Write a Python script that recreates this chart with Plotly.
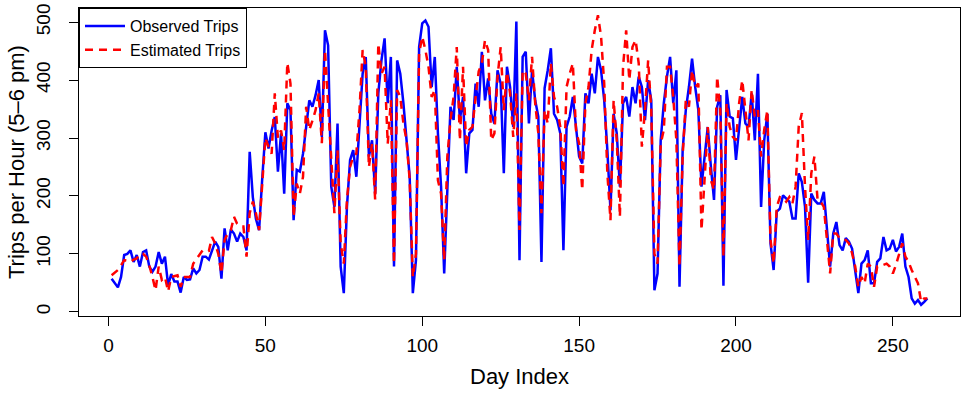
import plotly.graph_objects as go

# day index 1..261
days = list(range(1, 262))

# observed trips per hour (5-6 pm)
observed = [
    57, 50, 42, 60, 98, 100, 106, 86, 98, 78,
    103, 106, 78, 69, 78, 103, 83, 95, 46, 65,
    52, 52, 33, 60, 55, 56, 75, 66, 72, 95,
    95, 90, 104, 121, 112, 57, 144, 106, 142, 135,
    121, 135, 129, 106, 276, 198, 160, 141, 230, 310,
    282, 313, 336, 242, 308, 204, 360, 348, 158, 245,
    242, 273, 319, 365, 354, 374, 400, 302, 486, 460,
    216, 181, 325, 78, 32, 181, 262, 279, 233, 325,
    411, 440, 268, 296, 204, 377, 434, 472, 360, 440,
    78, 434, 411, 360, 296, 233, 32, 89, 457, 498,
    503, 492, 388, 440, 308, 216, 66, 216, 354, 331,
    423, 331, 371, 239, 308, 314, 394, 354, 449, 365,
    403, 342, 325, 417, 394, 239, 423, 388, 319, 501,
    89, 440, 449, 325, 417, 365, 337, 86, 386, 417,
    455, 342, 331, 308, 106, 319, 337, 371, 319, 268,
    256, 377, 360, 411, 377, 440, 417, 365, 279, 175,
    342, 308, 216, 360, 371, 337, 388, 360, 406, 388,
    331, 400, 365, 37, 66, 296, 360, 406, 440, 360,
    417, 43, 279, 348, 388, 437, 388, 348, 216, 262,
    319, 250, 193, 354, 374, 45, 383, 337, 334, 262,
    314, 371, 325, 319, 377, 296, 411, 181, 296, 342,
    118, 72, 173, 178, 201, 196, 190, 161, 161, 239,
    224, 181, 50, 204, 193, 187, 187, 207, 135, 78,
    135, 155, 115, 106, 127, 121, 109, 72, 32, 83,
    89, 106, 49, 49, 86, 92, 129, 106, 109, 124,
    104, 112, 135, 78, 60, 23, 14, 20, 12, 17,
    23,
]

# estimated trips per hour
estimated = [
    63, 68, 72, 80, 89, 88, 86, 90, 92, 100,
    100, 95, 80, 60, 37, 78, 55, 60, 35, 60,
    62, 63, 43, 60, 60, 60, 83, 90, 98, 106,
    104, 105, 129, 118, 100, 66, 124, 135, 141, 164,
    152, 147, 147, 95, 170, 190, 170, 141, 220, 300,
    285, 273, 377, 300, 313, 279, 430, 394, 164, 221,
    204, 233, 354, 314, 330, 348, 377, 291, 452, 360,
    250, 170, 279, 118, 83, 193, 250, 268, 273, 348,
    452, 423, 250, 290, 193, 463, 411, 423, 290, 365,
    83, 383, 371, 325, 296, 227, 60, 100, 446, 475,
    452, 423, 371, 383, 227, 204, 89, 268, 331, 371,
    457, 296, 423, 285, 314, 319, 370, 415, 429, 469,
    452, 296, 308, 406, 457, 348, 414, 377, 302, 377,
    141, 417, 411, 365, 440, 360, 308, 170, 348, 325,
    429, 371, 354, 319, 216, 388, 411, 429, 314, 291,
    210, 360, 388, 452, 486, 512, 475, 394, 239, 158,
    365, 296, 164, 423, 486, 400, 457, 469, 429, 285,
    348, 434, 348, 100, 83, 290, 314, 423, 423, 371,
    296, 78, 268, 365, 354, 417, 388, 394, 141, 239,
    319, 227, 210, 406, 348, 95, 360, 319, 302, 296,
    360, 400, 342, 296, 383, 337, 348, 268, 314, 348,
    124, 83, 181, 198, 196, 190, 198, 187, 216, 320,
    343, 216, 124, 239, 268, 193, 190, 181, 124, 66,
    135, 135, 127, 124, 124, 118, 101, 78, 43, 60,
    49, 83, 78, 43, 78, 78, 81, 83, 78, 66,
    81, 101, 118, 95, 86, 72, 60, 49, 17, 23,
    23,
]

x_ticks = [0, 50, 100, 150, 200, 250]
y_ticks = [0, 100, 200, 300, 400, 500]

font = "Liberation Sans, Arial, Helvetica, sans-serif"

fig = go.Figure()
fig.add_trace(go.Scatter(x=days, y=observed, mode="lines", name="Observed Trips",
                         line=dict(color="#0000FF", width=2.5)))
fig.add_trace(go.Scatter(x=days, y=estimated, mode="lines", name="Estimated Trips",
                         line=dict(color="#FF0000", width=2.5, dash="8px,6px")))

fig.update_layout(
    width=969, height=396,
    margin=dict(l=79, r=9, t=8, b=80),
    paper_bgcolor="white", plot_bgcolor="white",
    font=dict(family=font, color="black"),
    showlegend=True,
    legend=dict(x=0, y=1, xanchor="left", yanchor="top",
                bordercolor="black", borderwidth=1, bgcolor="white",
                font=dict(size=16), tracegroupgap=0, itemwidth=40),
    annotations=[
        dict(text="Day Index", x=0.5, y=-0.198, xref="paper", yref="paper",
             xanchor="center", yanchor="middle", showarrow=False, font=dict(size=22)),
        dict(text="Trips per Hour (5\u20136 pm)", x=-0.0715, y=0.5, xref="paper", yref="paper",
             xanchor="center", yanchor="middle", showarrow=False, textangle=-90,
             font=dict(size=22)),
    ],
)
fig.update_xaxes(range=[-9.4, 271.4], tickvals=x_ticks, ticks="outside", ticklen=9,
                 tickcolor="black", tickfont=dict(size=19), showgrid=False, zeroline=False,
                 showline=True, linecolor="black", linewidth=1, mirror=True,
                 automargin=False, ticklabelstandoff=3)
fig.update_yaxes(range=[-7.4, 524.5], tickvals=y_ticks, ticks="outside", ticklen=9,
                 tickcolor="black", tickfont=dict(size=19), tickangle=-90,
                 showgrid=False, zeroline=False,
                 showline=True, linecolor="black", linewidth=1, mirror=True,
                 automargin=False, ticklabelstandoff=11)

# drop the page's default body margin so the figure sits at the window's corner
fig.write_html("out.html", config={"displayModeBar": False},
               post_script="document.body.style.margin = '0px';")
